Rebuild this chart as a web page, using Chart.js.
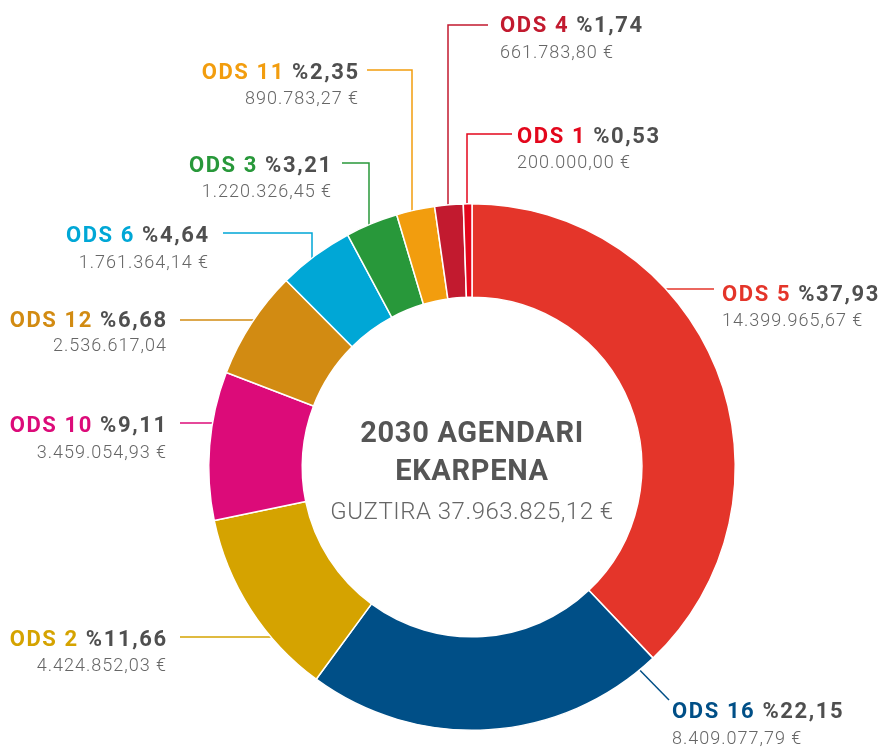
<!DOCTYPE html>
<html lang="eu">
<head>
    <meta charset="UTF-8">
    <title>2030 Agendari ekarpena</title>
    <script src="https://cdn.jsdelivr.net/npm/chart.js"></script>
    <style>
        html, body { margin: 0; padding: 0; background: #fff; }
        #wrap { width: 881px; height: 747px; position: relative; }
    </style>
</head>
<body>
    <div id="wrap"><canvas id="odsChart"></canvas></div>
    <script>
        // Data (clockwise from 12 o'clock)
        const categories = ['ODS 5', 'ODS 16', 'ODS 2', 'ODS 10', 'ODS 12', 'ODS 6', 'ODS 3', 'ODS 11', 'ODS 4', 'ODS 1'];
        const amounts = [14399965.67, 8409077.79, 4424852.03, 3459054.93, 2536617.04, 1761364.14, 1220326.45, 890783.27, 661783.80, 200000.00];
        const percentLabels = ['%37,93', '%22,15', '%11,66', '%9,11', '%6,68', '%4,64', '%3,21', '%2,35', '%1,74', '%0,53'];
        const amountLabels = ['14.399.965,67 €', '8.409.077,79 €', '4.424.852,03 €', '3.459.054,93 €', '2.536.617,04',
            '1.761.364,14 €', '1.220.326,45 €', '890.783,27 €', '661.783,80 €', '200.000,00 €'];
        const colors = ['#e4352a', '#004f87', '#d5a300', '#dc0b79', '#d28b12', '#00a7d6', '#28983a', '#f29d0e', '#c21a2f', '#e3071c'];
        const centerLines = ['2030 AGENDARI', 'EKARPENA', 'GUZTIRA 37.963.825,12 €'];

        // label placement: text anchor, baselines, leader line path
        const labelLayout = [
            { align: 'left',  x: 722, tb: 301, vb: 326, line: [[714, 289], [640, 289]] },
            { align: 'left',  x: 672, tb: 718, vb: 744, line: [[669, 700], [625, 655]] },
            { align: 'right', x: 166, tb: 646, vb: 671, line: [[180, 637], [300, 637]] },
            { align: 'right', x: 166, tb: 432, vb: 458, line: [[180, 423], [240, 423]] },
            { align: 'right', x: 166, tb: 327, vb: 351, line: [[180, 320], [270, 320]] },
            { align: 'right', x: 208, tb: 242, vb: 268, line: [[223, 233], [312, 233], [312, 275]] },
            { align: 'right', x: 331, tb: 172, vb: 197, line: [[342, 163], [369, 163], [369, 240]] },
            { align: 'right', x: 358, tb: 79,  vb: 104, line: [[367, 70], [412, 70], [412, 225]] },
            { align: 'left',  x: 500, tb: 32,  vb: 58,  line: [[488, 25], [448, 25], [448, 220]] },
            { align: 'left',  x: 517, tb: 143, vb: 168, line: [[512, 134], [467, 134], [467, 220]] }
        ];

        const FONT = 'Roboto, "DejaVu Sans", sans-serif';

        const leaderPlugin = {
            id: 'leaders',
            beforeDatasetsDraw(chart) {
                const ctx = chart.ctx;
                ctx.save();
                ctx.lineWidth = 1.5;
                labelLayout.forEach((l, i) => {
                    ctx.strokeStyle = colors[i];
                    ctx.beginPath();
                    l.line.forEach((p, k) => k ? ctx.lineTo(p[0], p[1]) : ctx.moveTo(p[0], p[1]));
                    ctx.stroke();
                });
                ctx.restore();
            },
            afterDraw(chart) {
                const ctx = chart.ctx;
                ctx.save();
                ctx.textBaseline = 'alphabetic';
                ctx.textAlign = 'left';
                labelLayout.forEach((l, i) => {
                    ctx.font = 'bold 22px ' + FONT;
                    ctx.letterSpacing = '1.6px';
                    const name = categories[i];
                    const pct = percentLabels[i];
                    const wName = ctx.measureText(name + ' ').width;
                    const wAll = wName + ctx.measureText(pct).width - 1.6;
                    const x0 = l.align === 'left' ? l.x : l.x - wAll;
                    ctx.fillStyle = colors[i];
                    ctx.fillText(name, x0, l.tb);
                    ctx.fillStyle = '#4f4f4f';
                    ctx.fillText(pct, x0 + wName, l.tb);
                    ctx.font = '300 18px ' + FONT;
                    ctx.letterSpacing = '1px';
                    ctx.fillStyle = '#666666';
                    const wv = ctx.measureText(amountLabels[i]).width - 1;
                    ctx.fillText(amountLabels[i], l.align === 'left' ? l.x : l.x - wv, l.vb);
                });
                // center text
                const arc = chart.getDatasetMeta(0).data[0];
                const cx = arc.x;
                ctx.textAlign = 'center';
                ctx.fillStyle = '#555555';
                ctx.font = 'bold 29px ' + FONT;
                ctx.letterSpacing = '0.7px';
                ctx.fillText(centerLines[0], cx, 442);
                ctx.fillText(centerLines[1], cx, 480);
                ctx.font = '300 24px ' + FONT;
                ctx.letterSpacing = '0.5px';
                ctx.fillStyle = '#666666';
                ctx.fillText(centerLines[2], cx, 519);
                ctx.restore();
            }
        };

        new Chart(document.getElementById('odsChart'), {
            type: 'doughnut',
            data: {
                labels: categories,
                datasets: [{
                    data: amounts,
                    backgroundColor: colors,
                    borderColor: '#ffffff',
                    borderWidth: 1.5
                }]
            },
            options: {
                responsive: true,
                maintainAspectRatio: false,
                animation: false,
                cutout: '64.5%',
                layout: { padding: { left: 207, right: 144, top: 203, bottom: 16 } },
                plugins: {
                    legend: { display: false },
                    tooltip: { enabled: false }
                }
            },
            plugins: [leaderPlugin]
        });
    </script>
</body>
</html>
